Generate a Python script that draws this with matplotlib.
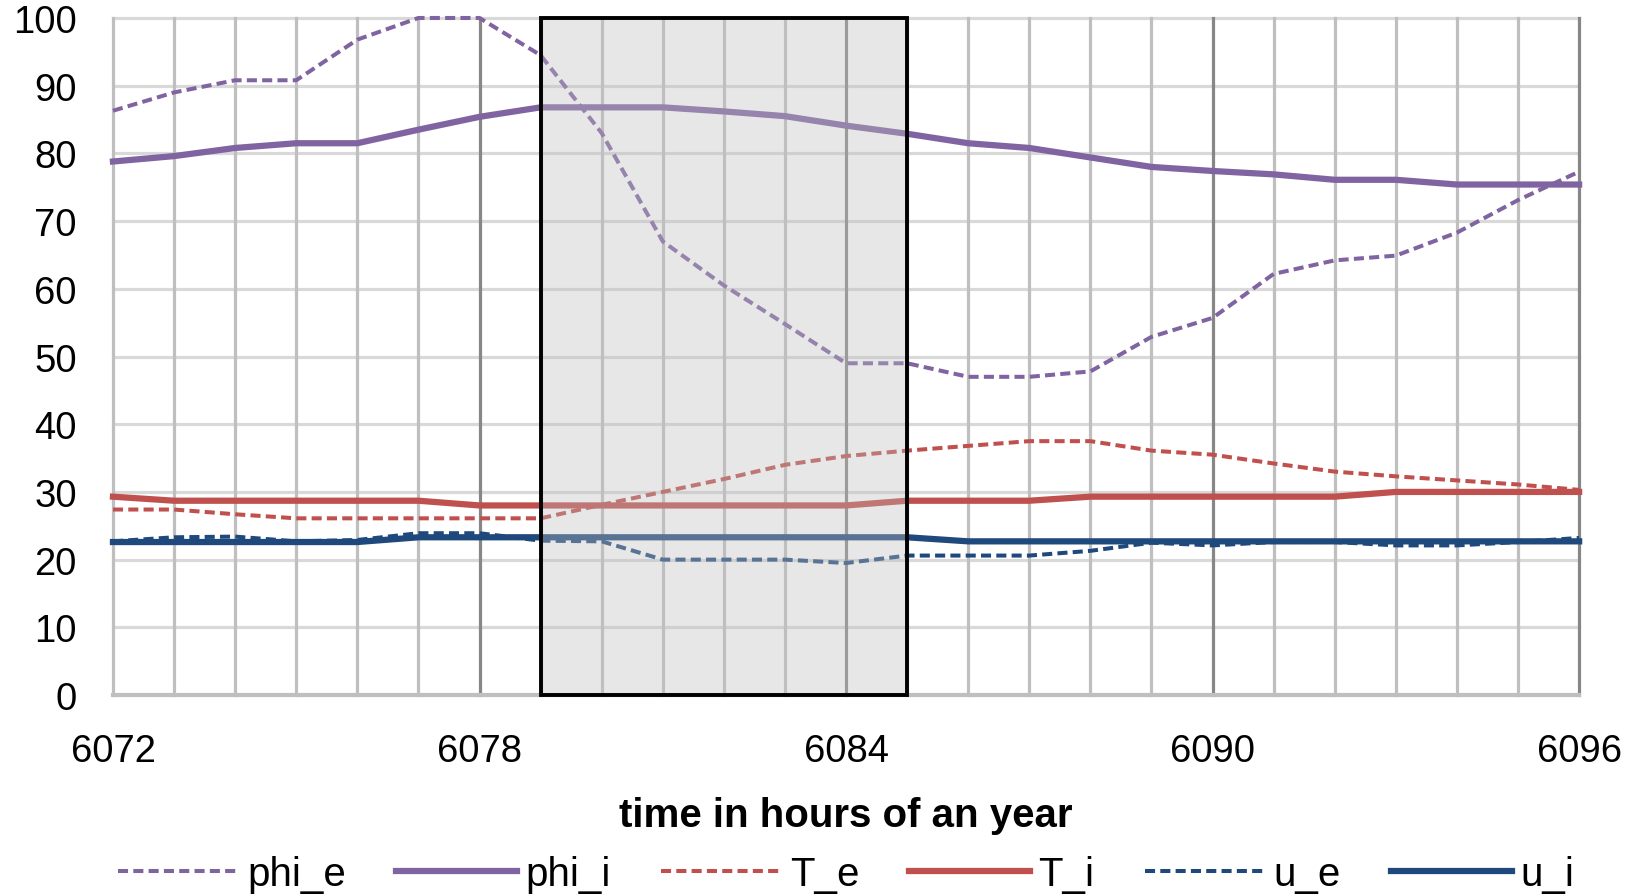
import numpy as np
import matplotlib
matplotlib.use("Agg")
import matplotlib.pyplot as plt
from matplotlib.patches import Rectangle

plt.rcParams['font.family'] = ['Liberation Sans', 'DejaVu Sans']

hours = np.arange(6072, 6097)

phi_e = [86.3, 89.0, 90.8, 90.8, 96.8, 100.0, 100.0, 94.5, 83.0, 67.0, 60.5, 54.8, 49.0,
         49.0, 47.0, 47.0, 47.8, 52.9, 55.7, 62.2, 64.2, 64.9, 68.3, 73.1, 77.3]
phi_i = [78.8, 79.6, 80.8, 81.5, 81.5, 83.5, 85.4, 86.8, 86.8, 86.8, 86.2, 85.5, 84.1,
         82.9, 81.5, 80.8, 79.4, 78.0, 77.4, 76.9, 76.1, 76.1, 75.4, 75.4, 75.4]
T_e = [27.4, 27.4, 26.7, 26.1, 26.1, 26.1, 26.1, 26.1, 28.1, 30.0, 31.9, 34.0, 35.3,
       36.1, 36.8, 37.5, 37.5, 36.1, 35.5, 34.2, 33.0, 32.3, 31.7, 31.1, 30.3]
T_i = [29.3, 28.7, 28.7, 28.7, 28.7, 28.7, 28.0, 28.0, 28.0, 28.0, 28.0, 28.0, 28.0,
       28.7, 28.7, 28.7, 29.3, 29.3, 29.3, 29.3, 29.3, 30.0, 30.0, 30.0, 30.0]
u_e = [22.7, 23.3, 23.4, 22.7, 22.9, 23.9, 23.9, 22.8, 22.7, 20.0, 20.0, 20.0, 19.5,
       20.6, 20.6, 20.6, 21.3, 22.5, 22.1, 22.6, 22.6, 22.1, 22.1, 22.6, 23.2]
u_i = [22.6, 22.6, 22.6, 22.6, 22.6, 23.3, 23.3, 23.3, 23.3, 23.3, 23.3, 23.3, 23.3,
       23.3, 22.7, 22.7, 22.7, 22.7, 22.7, 22.7, 22.7, 22.7, 22.7, 22.7, 22.7]

# highlighted period
box_start, box_end = 6079, 6085

purple = '#8064A2'
red = '#C0504D'
blue = '#1F497D'

fig = plt.figure(figsize=(16.42, 8.95), dpi=100)
ax = fig.add_axes([0.0688, 0.2223, 0.8929, 0.7565])

# grid: light lines every hour, darker every 6 hours
for h in hours:
    c = '#878787' if (h - hours[0]) % 6 == 0 and h != hours[0] else '#BFBFBF'
    ax.axvline(h, color=c, lw=2.3, zorder=1, clip_on=False)
for v in range(10, 101, 10):
    ax.axhline(v, color='#D9D9D9', lw=2.3, zorder=0.9, clip_on=False)

lw_d, lw_s = 2.9, 4.5
dash = (2.5, 1.3)
ax.plot(hours, phi_e, color=purple, lw=lw_d, dashes=dash, label='phi_e', zorder=3, clip_on=False)
ax.plot(hours, phi_i, color=purple, lw=lw_s, label='phi_i', zorder=3, clip_on=False)
ax.plot(hours, T_e, color=red, lw=lw_d, dashes=dash, label='T_e', zorder=3, clip_on=False)
ax.plot(hours, T_i, color=red, lw=lw_s, label='T_i', zorder=3, clip_on=False)
ax.plot(hours, u_e, color=blue, lw=lw_d, dashes=dash, label='u_e', zorder=3.1, clip_on=False)
ax.plot(hours, u_i, color=blue, lw=lw_s, label='u_i', zorder=3, clip_on=False)

ax.add_patch(Rectangle((box_start, 0), box_end - box_start, 100,
                       facecolor=(0.75, 0.75, 0.75, 0.36), edgecolor='black',
                       lw=2.8, zorder=5, clip_on=False))

ax.set_xlim(hours[0], hours[-1])
ax.set_ylim(0, 100)
ax.set_xticks(hours[::6])
ax.set_yticks(range(0, 101, 10))
ax.tick_params(axis='both', length=0, labelsize=27.5)
ax.tick_params(axis='y', pad=26)
ax.tick_params(axis='x', pad=27)

for s in ['top', 'right', 'left']:
    ax.spines[s].set_visible(False)
ax.spines['bottom'].set_color('#BFBFBF')
ax.spines['bottom'].set_linewidth(3)
ax.spines['bottom'].set_zorder(1.5)

ax.set_xlabel('time in hours of an year', fontsize=29, fontweight='bold', labelpad=20)

ax.legend(loc='center', bbox_to_anchor=(0.5, -0.265), ncol=6, frameon=False,
          fontsize=29, handlelength=3.0, handletextpad=0.2, columnspacing=1.25,
          borderaxespad=0)

fig.savefig('out.png', dpi=100)
